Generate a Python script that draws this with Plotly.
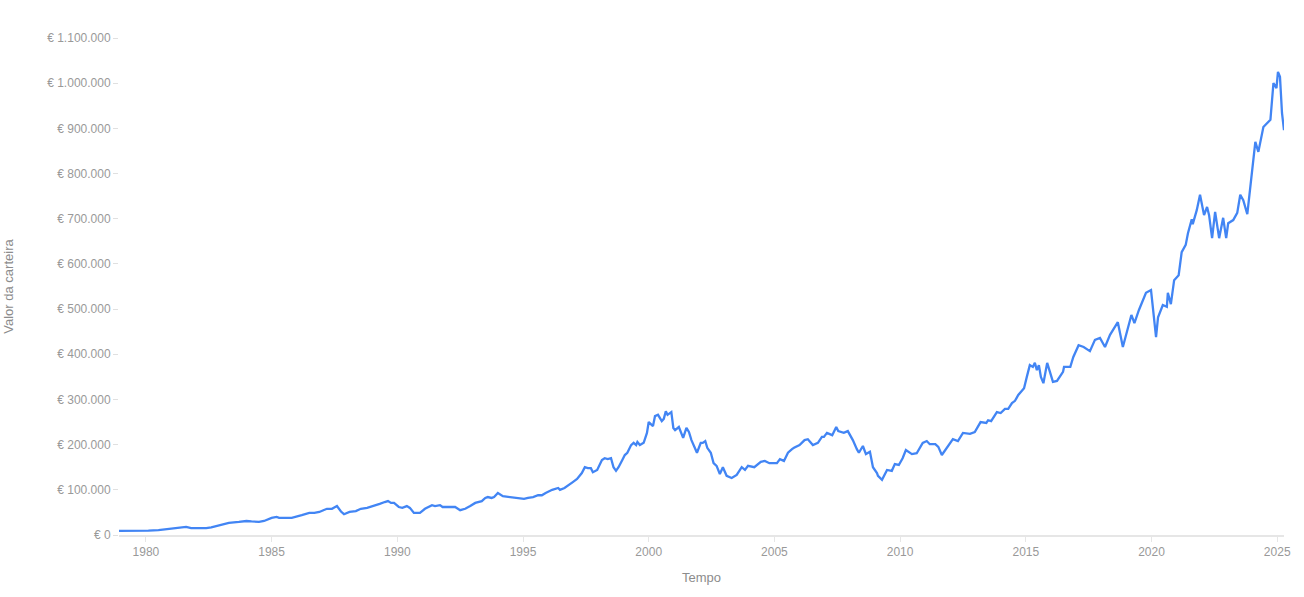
import plotly.graph_objects as go

# decimal years
years = [
    1978.93, 1979.3, 1979.7, 1980.1, 1980.5, 1980.9, 1981.3, 1981.6, 1981.8, 1982.1, 1982.4, 1982.6, 1982.9,
    1983.3, 1983.7, 1984.0, 1984.2, 1984.5, 1984.7, 1985.0, 1985.2, 1985.3, 1985.6, 1985.8, 1986.2,
    1986.5, 1986.7, 1986.9, 1987.2, 1987.4, 1987.6, 1987.76, 1987.88, 1988.1, 1988.35, 1988.55, 1988.8,
    1989.06, 1989.3, 1989.5, 1989.63, 1989.75, 1989.87, 1990.06, 1990.2, 1990.38, 1990.5, 1990.66,
    1990.9, 1991.1, 1991.38, 1991.5, 1991.7, 1991.8, 1992.1, 1992.3, 1992.5, 1992.7, 1992.9, 1993.1,
    1993.36, 1993.5, 1993.6, 1993.75, 1993.85, 1994.0, 1994.2, 1994.48, 1994.7, 1994.85, 1995.04,
    1995.2, 1995.4, 1995.6, 1995.75, 1995.9, 1996.16, 1996.4, 1996.47, 1996.65, 1996.85, 1996.98,
    1997.15, 1997.34, 1997.46, 1997.58, 1997.7, 1997.78, 1997.95, 1998.14, 1998.25, 1998.37, 1998.5,
    1998.6, 1998.7, 1998.8, 1998.95, 1999.05, 1999.15, 1999.3, 1999.4, 1999.5, 1999.55, 1999.65,
    1999.8, 1999.93, 2000.0, 2000.17, 2000.25, 2000.37, 2000.52, 2000.6, 2000.68, 2000.75, 2000.9,
    2000.98, 2001.05, 2001.2, 2001.37, 2001.5, 2001.6, 2001.7, 2001.92, 2002.07, 2002.15, 2002.25,
    2002.33, 2002.47, 2002.58, 2002.7, 2002.83, 2002.95, 2003.1, 2003.3, 2003.5, 2003.62, 2003.7,
    2003.83, 2003.95, 2004.2, 2004.4, 2004.46, 2004.62, 2004.8, 2005.1, 2005.22, 2005.38, 2005.54,
    2005.7, 2005.78, 2006.0, 2006.2, 2006.33, 2006.53, 2006.73, 2006.89, 2006.97, 2007.09, 2007.3,
    2007.46, 2007.54, 2007.76, 2007.92, 2008.12, 2008.28, 2008.36, 2008.52, 2008.64, 2008.8, 2008.92,
    2009.08, 2009.12, 2009.28, 2009.4, 2009.48, 2009.67, 2009.79, 2009.95, 2010.1, 2010.23, 2010.47,
    2010.66, 2010.9, 2011.06, 2011.18, 2011.4, 2011.52, 2011.66, 2011.82, 2012.1, 2012.3, 2012.5,
    2012.78, 2012.97, 2013.2, 2013.43, 2013.5, 2013.62, 2013.85, 2014.0, 2014.17, 2014.3, 2014.45,
    2014.57, 2014.7, 2014.93, 2015.04, 2015.16, 2015.28, 2015.36, 2015.44, 2015.52, 2015.6, 2015.7,
    2015.85, 2016.08, 2016.24, 2016.44, 2016.48, 2016.52, 2016.77, 2016.89, 2017.1, 2017.3, 2017.55,
    2017.75, 2017.95, 2018.15, 2018.35, 2018.66, 2018.86, 2019.2, 2019.32, 2019.5, 2019.62, 2019.78,
    2019.98, 2020.18, 2020.26, 2020.45, 2020.61, 2020.65, 2020.77, 2020.9, 2021.08, 2021.2, 2021.36,
    2021.45, 2021.6, 2021.64, 2021.8, 2021.93, 2022.09, 2022.21, 2022.29, 2022.41, 2022.53, 2022.69,
    2022.85, 2022.97, 2023.05, 2023.25, 2023.41, 2023.53, 2023.65, 2023.81, 2024.13, 2024.25,
    2024.45, 2024.73, 2024.85, 2024.97, 2025.03, 2025.11, 2025.19, 2025.27,
]

# portfolio value (EUR)
values = [
    9000, 9000, 9200, 9500, 11000, 13000, 15000, 18000, 15000, 15000, 15000, 17000, 22000,
    27000, 29000, 31000, 30000, 29000, 31000, 38000, 40000, 38000, 38000, 38000, 44000,
    49000, 49000, 51000, 58000, 58000, 64000, 52000, 46000, 51000, 53000, 58000, 60000,
    64000, 69000, 73000, 75000, 71000, 71000, 62000, 60000, 64000, 60000, 49000,
    49000, 58000, 66000, 64000, 66000, 62000, 62000, 62000, 55000, 58000, 64000, 71000,
    75000, 82000, 84000, 82000, 84000, 93000, 86000, 84000, 84000, 82000, 80000,
    82000, 84000, 88000, 88000, 93000, 100000, 104000, 100000, 104000, 111000, 117000,
    124000, 137000, 150000, 148000, 148000, 139000, 144000, 166000, 170000, 168000, 170000,
    150000, 142000, 150000, 166000, 177000, 182000, 199000, 204000, 199000, 206000, 199000,
    204000, 226000, 250000, 241000, 263000, 266000, 252000, 257000, 274000, 266000, 272000,
    237000, 232000, 239000, 215000, 237000, 228000, 210000, 182000, 204000, 204000, 208000,
    193000, 182000, 159000, 153000, 135000, 150000, 131000, 126000, 133000, 144000, 150000,
    144000, 153000, 150000, 159000, 162000, 164000, 159000, 159000, 168000, 164000, 182000,
    190000, 193000, 199000, 210000, 212000, 199000, 204000, 217000, 217000, 226000, 221000,
    239000, 230000, 226000, 230000, 210000, 190000, 182000, 197000, 179000, 184000, 150000,
    137000, 131000, 122000, 137000, 144000, 142000, 157000, 155000, 170000, 188000, 179000,
    181000, 204000, 208000, 201000, 201000, 195000, 177000, 190000, 212000, 208000, 226000,
    224000, 228000, 250000, 248000, 254000, 252000, 272000, 270000, 279000, 279000, 292000,
    297000, 310000, 325000, 350000, 376000, 372000, 381000, 365000, 376000, 350000, 336000,
    381000, 339000, 341000, 358000, 361000, 372000, 372000, 394000, 420000, 416000, 407000,
    432000, 436000, 416000, 443000, 471000, 416000, 487000, 469000, 498000, 513000, 536000,
    542000, 438000, 482000, 509000, 505000, 536000, 511000, 564000, 575000, 626000, 642000,
    668000, 699000, 688000, 719000, 753000, 708000, 726000, 708000, 657000, 715000, 657000,
    702000, 657000, 690000, 697000, 713000, 753000, 741000, 710000, 870000, 848000,
    903000, 919000, 1000000, 989000, 1025000, 1014000, 934000, 896000,
]

year_ticks = [1980, 1985, 1990, 1995, 2000, 2005, 2010, 2015, 2020, 2025]
value_ticks = [0, 100000, 200000, 300000, 400000, 500000, 600000, 700000, 800000, 900000, 1000000, 1100000]
value_labels = ["€ " + f"{v:,}".replace(",", ".") for v in value_ticks]

fig = go.Figure()
fig.add_trace(go.Scatter(
    x=years, y=values, mode="lines",
    line=dict(color="#4285f4", width=2.3),
    hoverinfo="skip",
))

font_family = "Liberation Sans, Arial, sans-serif"
fig.update_layout(
    width=1304, height=597,
    margin=dict(l=119, r=20, t=38, b=62),
    paper_bgcolor="white", plot_bgcolor="white",
    showlegend=False,
    font=dict(family=font_family, color="#999999", size=12),
    xaxis=dict(
        range=[1978.93, 2025.27],
        tickvals=year_ticks,
        ticktext=[str(y) for y in year_ticks],
        showgrid=False, zeroline=False,
        showline=True, linecolor="#e6e6e6", linewidth=2,
        ticks="outside", ticklen=5, tickcolor="#e6e6e6", tickwidth=1,
        tickfont=dict(size=12, color="#999999"),
        title=dict(text="Tempo", font=dict(size=13, color="#8c8c8c"), standoff=14),
        automargin=False,
    ),
    yaxis=dict(
        range=[0, 1100000],
        tickvals=value_ticks,
        ticktext=value_labels,
        showgrid=False, zeroline=False, showline=False,
        ticks="outside", ticklen=5, tickcolor="#e0e0e0", tickwidth=1,
        tickfont=dict(size=12, color="#999999"),
        title=dict(text="Valor da carteira", font=dict(size=13, color="#8c8c8c"), standoff=30),
        automargin=False,
    ),
)

fig.write_html("out.html")
